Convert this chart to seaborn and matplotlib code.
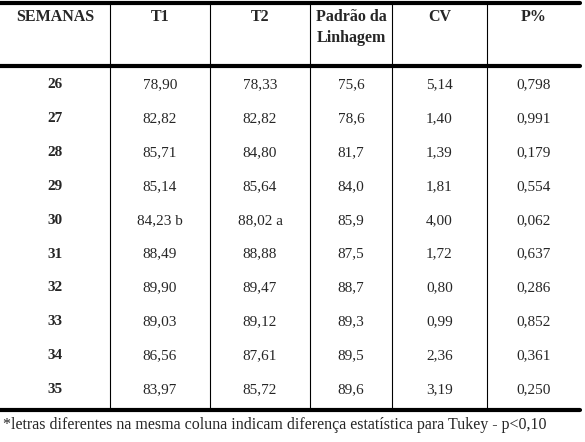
import seaborn as sns
import matplotlib.pyplot as plt

# Dados da tabela
semanas = ["26", "27", "28", "29", "30", "31", "32", "33", "34", "35"]
t1 = ["78,90", "82,82", "85,71", "85,14", "84,23 b", "88,49", "89,90", "89,03", "86,56", "83,97"]
t2 = ["78,33", "82,82", "84,80", "85,64", "88,02 a", "88,88", "89,47", "89,12", "87,61", "85,72"]
padrao = ["75,6", "78,6", "81,7", "84,0", "85,9", "87,5", "88,7", "89,3", "89,5", "89,6"]
cv = ["5,14", "1,40", "1,39", "1,81", "4,00", "1,72", "0,80", "0,99", "2,36", "3,19"]
p = ["0,798", "0,991", "0,179", "0,554", "0,062", "0,637", "0,286", "0,852", "0,361", "0,250"]
cabecalho = ["SEMANAS", "T1", "T2", "Padrão da\nLinhagem", "CV", "P%"]
nota = "*letras diferentes na mesma coluna indicam diferença estatística para Tukey - p<0,10"

sns.set_theme(style="white")
plt.rcParams['font.family'] = ['Liberation Serif', 'DejaVu Serif']

fig = plt.figure(figsize=(5.85, 4.42), dpi=100)
ax = fig.add_axes([0, 0, 1, 1])
ax.set_xlim(0, 585)
ax.set_ylim(442, 0)
ax.axis("off")

# grade
bordas = [0, 110, 210, 310, 392, 487, 580]
topo, cab, base = 3, 66, 410
for x in bordas[1:-1]:
    ax.plot([x, x], [topo, base], color="black", lw=0.8)
for y in [topo, cab, base]:
    ax.plot([0, 580], [y, y], color="black", lw=3)

centros = [(a + b) / 2 for a, b in zip(bordas[:-1], bordas[1:])]
centros[0] = 55
for c, h in zip(centros, cabecalho):
    ax.text(c, 9, h, ha="center", va="top", fontsize=11.5, fontweight="bold", linespacing=1.45)

colunas = [semanas, t1, t2, padrao, cv, p]
for i in range(len(semanas)):
    y = 85 + 33.8 * i
    for j, col in enumerate(colunas):
        ax.text(centros[j], y, col[i], ha="center", va="center", fontsize=11,
                fontweight="bold" if j == 0 else "normal")

ax.text(3, 425, nota, ha="left", va="center", fontsize=11.5)

fig.savefig("out.png", dpi=100)
